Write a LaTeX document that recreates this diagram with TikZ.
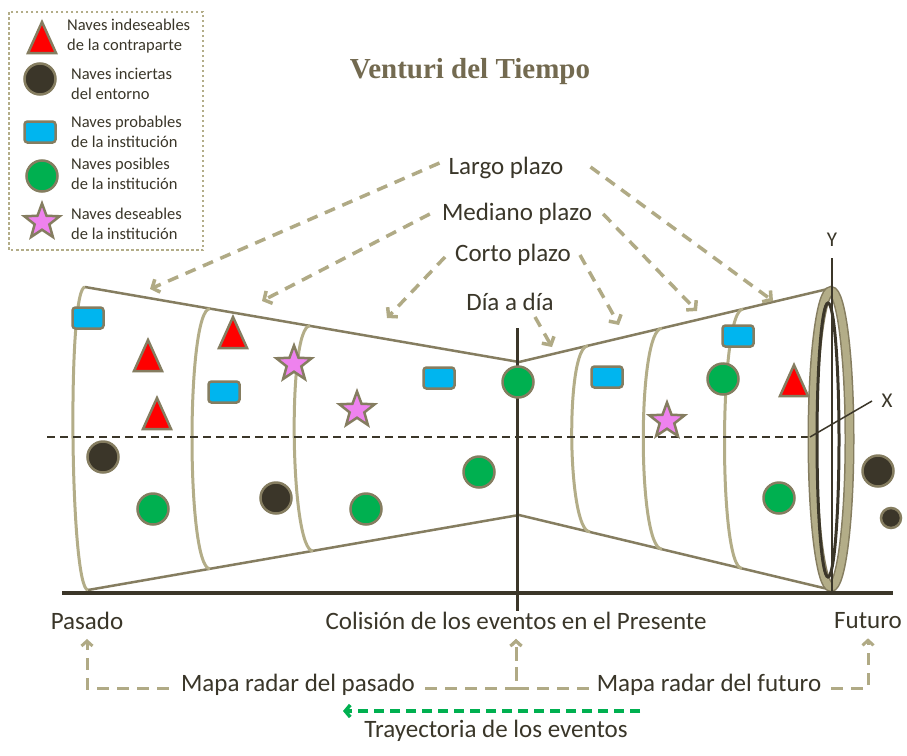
\documentclass[tikz,border=0pt]{standalone}
\usepackage{fontspec}
\setmainfont{Carlito}
\newfontfamily\titlefont{Liberation Serif}
\usetikzlibrary{arrows.meta,shapes.geometric,calc}
\definecolor{olivec}{HTML}{857D60}
\definecolor{tanc}{HTML}{B3AD88}
\definecolor{darkc}{HTML}{3B3629}
\definecolor{textc}{HTML}{3A3629}
\definecolor{titlec}{HTML}{736A50}
\definecolor{bluec}{HTML}{00B5EF}
\definecolor{greenc}{HTML}{00B050}
\definecolor{redc}{HTML}{FF0000}
\definecolor{pinkc}{HTML}{EE82EE}
\definecolor{arrowc}{HTML}{B0AA85}
\begin{document}
\begin{tikzpicture}[x=1pt,y=-1pt,
 lbl/.style={inner sep=0pt, text=textc, font=\fontsize{25}{29}\selectfont},
 leg/.style={inner sep=0pt, text=textc, anchor=west, align=left, font=\fontsize{16.5}{19.5}\selectfont},
 cone/.style={draw=olivec, line width=2.5pt},
 ringarc/.style={draw=tanc, line width=3pt},
 dcirc/.style={circle, draw=olivec, line width=2.5pt, fill=darkc, minimum size=31pt, inner sep=0pt},
 gcirc/.style={circle, draw=olivec, line width=2.5pt, fill=greenc, minimum size=31pt, inner sep=0pt},
 brect/.style={rectangle, rounded corners=3pt, draw=olivec, line width=2.5pt, fill=bluec, minimum width=31pt, minimum height=21pt, inner sep=0pt},
 pstar/.style={star, star points=5, star point ratio=2.4, draw=olivec, line width=2.5pt, fill=pinkc, minimum size=37pt, inner sep=0pt},
 tri/.pic={\draw[draw=olivec, line width=2.5pt, fill=redc, line join=miter] (0,-16) -- (14,15) -- (-14,15) -- cycle;},
 tanarrow/.style={draw=arrowc, line width=3.5pt, dash pattern=on 11pt off 8pt, -{Straight Barb[length=6pt,width=14pt]}},
 radar/.style={draw=arrowc, line width=3pt, dash pattern=on 12pt off 8pt, -{Straight Barb[length=5pt,width=11pt]}},
 greenarrow/.style={draw=greenc, line width=3.5pt, dash pattern=on 10pt off 6pt, -{Straight Barb[length=5pt,width=12pt]}}
]
\useasboundingbox (0,0) rectangle (907,755);
\fill[white] (0,0) rectangle (907,755);

% legend
\draw[draw=tanc, line width=2.5pt, dash pattern=on 2.5pt off 2.5pt] (9,12) rectangle (203,250);
\pic (lt) at (42,38) {tri};
\node[dcirc] (ld) at (40,79) {};
\node[brect] (lb) at (40,132) {};
\node[gcirc] (lg) at (42,176) {};
\node[pstar] (ls) at (42,222) {};
\node[leg] (lt1) at (67,36) {Naves indeseables\\de la contraparte};
\node[leg] (ld1) at (71,84) {Naves inciertas\\del entorno};
\node[leg] (lb1) at (71,132) {Naves probables\\de la institución};
\node[leg] (lg1) at (71,174) {Naves posibles\\de la institución};
\node[leg] (ls1) at (71,224) {Naves deseables\\de la institución};

% title
\node[inner sep=0pt, text=titlec, font=\titlefont\bfseries\fontsize{29}{32}\selectfont] (title) at (470,72) {Venturi del Tiempo};

% cone
\coordinate (LT) at (85,287);
\coordinate (LB) at (88,590);
\coordinate (CT) at (519,362);
\coordinate (CB) at (519,515);
\coordinate (RT) at (832,288);
\coordinate (RB) at (832,590);
\draw[cone] (LT) -- (CT) -- (RT);
\draw[cone] (LB) -- (CB) -- (RB);
\draw[ringarc] (LT) .. controls (67,287) and (70,590) .. (LB);
\draw[ringarc] (210,308.6) .. controls (186,308.6) and (186,568.8) .. (210,568.8);
\draw[ringarc] (310,325.8) .. controls (287,325.8) and (290,551) .. (313,551);
\draw[ringarc] (588,345.9) .. controls (565,345.9) and (567,531.8) .. (590,531.8);
\draw[ringarc] (662,328.3) .. controls (637,328.3) and (637,549.1) .. (662,549.1);
\draw[ringarc] (743,309.1) .. controls (719,309.1) and (718,568.4) .. (742,568.4);

% axis dashed
\coordinate (XA) at (47,437);
\coordinate (XO) at (810,437);
\draw[darkc, line width=1.5pt, dash pattern=on 8pt off 5pt] (XA) -- (XO);

% ring
\draw[draw=olivec, line width=10pt] (831,439) ellipse [x radius=18.5, y radius=148];
\draw[draw=tanc, line width=7pt] (831,439) ellipse [x radius=18.5, y radius=148];
\draw[draw=darkc, line width=3pt] (828,440) ellipse [x radius=11, y radius=137];

% Y and X
\coordinate (YT) at (832,258);
\coordinate (YB) at (832,593);
\draw[darkc, line width=1.5pt] (YT) -- (YB);
\coordinate (XE) at (872,401);
\draw[darkc, line width=1.5pt] (XO) -- (XE);
\node[lbl, font=\fontsize{21}{24}\selectfont] (ylab) at (832,240) {Y};
\node[lbl, font=\fontsize{21}{24}\selectfont] (xlab) at (887,401) {X};

% present line and baseline
\coordinate (PT) at (517,328);
\coordinate (PB) at (517,611);
\draw[darkc, line width=3pt] (PT) -- (PB);
\coordinate (BL) at (62,593);
\coordinate (BR) at (893,593);
\draw[darkc, line width=3.5pt] (BL) -- (BR);

% ships
\node[brect] (b1) at (88,318) {};
\pic (t1) at (148,356) {tri};
\pic (t2) at (157,414) {tri};
\node[dcirc] (d1) at (103,457) {};
\node[gcirc] (g1) at (153,509) {};
\pic (t3) at (233,333) {tri};
\node[brect] (b2) at (224,392) {};
\node[dcirc] (d2) at (276,498) {};
\node[pstar] (s1) at (294,364) {};
\node[pstar] (s2) at (357,410) {};
\node[gcirc] (g2) at (366,509) {};
\node[brect] (b3) at (439,378) {};
\node[gcirc] (g3) at (479,472) {};
\node[gcirc] (g4) at (518,382) {};
\node[brect] (b4) at (607,377) {};
\node[pstar] (s3) at (667,421) {};
\node[gcirc] (g5) at (723,379) {};
\node[brect] (b5) at (738,336) {};
\pic (t4) at (794,381) {tri};
\node[gcirc] (g6) at (779,498) {};
\node[dcirc] (d3) at (878,471) {};
\node[dcirc, minimum size=20pt] (d4) at (891,518) {};

% labels
\node[lbl] (largo) at (506,168) {Largo plazo};
\node[lbl] (medi) at (517,214) {Mediano plazo};
\node[lbl] (corto) at (513,255) {Corto plazo};
\node[lbl] (dia) at (510,302) {Día a día};
\node[lbl] (pasado) at (87,621) {Pasado};
\node[lbl] (colision) at (516,621) {Colisión de los eventos en el Presente};
\node[lbl] (futuro) at (868,621) {Futuro};
\node[lbl] (mpas) at (298,685) {Mapa radar del pasado};
\node[lbl] (mfut) at (709,685) {Mapa radar del futuro};
\node[lbl] (tray) at (496,731) {Trayectoria de los eventos};

% top arrows
\coordinate (e1) at (150,289);
\coordinate (e2) at (773,301);
\coordinate (e3) at (262,301);
\coordinate (e4) at (697,311);
\coordinate (e5) at (387,318);
\coordinate (e6) at (619,325);
\coordinate (e7) at (552,347);
\draw[tanarrow] ([xshift=-9pt,yshift=5pt]largo.west) -- (e1);
\draw[tanarrow] ([xshift=27pt,yshift=1pt]largo.east) -- (e2);
\draw[tanarrow] ([xshift=-12pt]medi.west) -- (e3);
\draw[tanarrow] ([xshift=11pt]medi.east) -- (e4);
\draw[tanarrow] ([xshift=-10pt,yshift=-2pt]corto.west) -- (e5);
\draw[tanarrow] ([xshift=9pt]corto.east) -- (e6);
\draw[tanarrow] ([xshift=25pt,yshift=-6pt]dia.south) -- (e7);

% bottom radar arrows
\draw[radar, shorten <=12pt, shorten >=9pt] ([yshift=-3pt]mpas.west) -| (pasado.south);
\draw[radar, shorten <=10pt, shorten >=9pt] ([yshift=-3pt]mpas.east) -| (colision.south);
\draw[radar, shorten <=8pt, shorten >=9pt] ([yshift=-3pt]mfut.west) -| (colision.south);
\draw[radar, shorten <=10pt, shorten >=9pt] ([yshift=-3pt]mfut.east) -| (futuro.south);

% green arrow
\coordinate (gs) at (640,711);
\coordinate (ge) at (343,711);
\draw[greenarrow] (gs) -- (ge);
\end{tikzpicture}
\end{document}
